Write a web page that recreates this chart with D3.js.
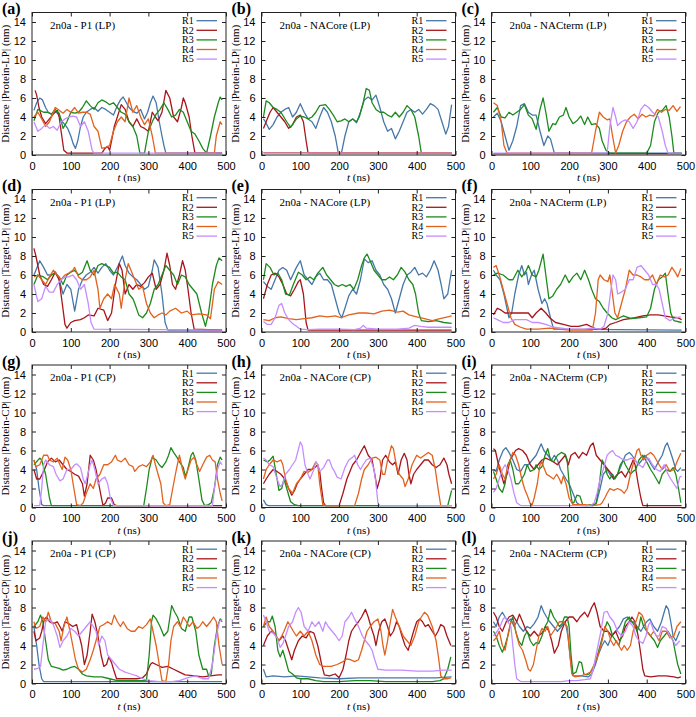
<!DOCTYPE html>
<html>
<head>
<meta charset="utf-8">
<style>
body { margin: 0; background: #fff; }
svg { display: block; font-family: "Liberation Serif", "Times New Roman", serif; }
.tick text { font-size: 11px; fill: #000; }
</style>
</head>
<body>
<svg id="chart"></svg>
<script src="https://cdn.jsdelivr.net/npm/d3@7"></script>
<script>

// values, [t (ns), distance (nm)]
var pA = [
  [[5,4.7],[12,5.5],[20,6],[27,5.8],[35,5],[42,4.5],[50,4.3],[60,4.6],[70,4.2],[78,3.5],[85,3.2],[92,2.8],[100,2],[106,1.2],[112,0.7],[118,1.5],[125,3],[132,4],[140,4.5],[150,4.8],[160,5],[170,4.6],[180,5],[190,4.8],[200,4.5],[210,4.2],[220,5.2],[228,5.8],[235,6.1],[242,5.6],[250,5],[260,4.6],[270,4.4],[280,4.8],[290,3.8],[298,4.5],[305,5.5],[312,6.2],[320,5.5],[328,3.5],[335,2],[340,1],[345,0.2],[490,0.2]],
  [[8,6.8],[12,6.3],[18,5],[25,4],[35,3.3],[45,3.8],[55,4.3],[65,4.7],[70,4],[75,2.5],[82,0.5],[90,0.2],[180,0.2],[188,0.7],[195,0.9],[200,0.5],[205,1.5],[212,3],[220,4],[230,5.3],[240,4.8],[250,3.5],[260,3],[270,3.8],[280,3],[290,2.8],[300,2.5],[310,4.5],[318,4],[325,3.6],[335,4.5],[345,6.8],[355,6],[365,4],[375,3.5],[385,5],[390,6],[395,5.5],[405,4],[412,2],[420,0.2],[490,0.2]],
  [[5,3.6],[15,4.8],[30,4.5],[40,4.5],[50,4.3],[60,4.8],[70,4.4],[80,2.8],[90,3.5],[100,4.5],[110,4.4],[120,4.5],[130,5],[140,5.7],[150,5.2],[160,4.8],[170,5.5],[180,5.8],[190,5.6],[200,5.3],[210,5.5],[220,5],[230,4.5],[240,4.3],[250,3.5],[260,3],[270,2],[278,0.2],[290,0.2],[300,2.5],[310,3.5],[320,4.3],[330,4.8],[340,5.5],[350,4.8],[360,4],[370,4.2],[380,4.8],[390,4.5],[400,3.5],[410,2.5],[420,2.2],[430,1.5],[440,0.7],[450,0.2],[460,2],[470,4],[480,5.5],[485,6.1],[490,5.8]],
  [[5,4],[15,4.5],[25,3.8],[35,3],[45,3.5],[55,4.5],[60,5],[70,4.7],[80,4.4],[90,4.8],[100,4.5],[110,5],[120,4.4],[130,4.5],[140,4.5],[150,4.3],[160,3],[170,2.5],[180,0.7],[190,0.8],[200,1],[210,2.5],[220,3.5],[230,4],[240,3.5],[250,6],[260,4.5],[270,5.2],[280,4],[290,3.2],[300,3.8],[310,2],[318,0.2],[470,0.2],[475,2],[485,3.5],[490,3.2]],
  [[5,3.5],[15,2.5],[25,2.8],[35,3.2],[45,2.8],[55,3],[65,2.6],[75,3.5],[85,3.8],[95,4],[105,4.1],[115,4],[125,3],[135,3.5],[145,2.5],[155,0.5],[160,0.2],[490,0.2]]
];

var pB = [
  [[5,3.8],[10,3.5],[20,2.7],[30,3.2],[40,4],[50,4.5],[60,4.8],[70,5],[80,4],[90,4.5],[100,5.4],[110,4.5],[120,3.8],[130,3.5],[140,2.8],[150,4],[160,5],[170,4.5],[180,3.5],[190,2],[198,0.2],[206,0.2],[215,2],[225,3.5],[235,3.8],[245,3.4],[255,4.5],[265,5.8],[275,6.1],[285,5.8],[295,6.3],[305,5],[315,3.5],[325,2.5],[335,2.8],[345,1.7],[355,2.5],[365,3.5],[375,4.5],[385,4.8],[395,4.5],[405,4.8],[415,4.3],[425,4.8],[435,5.4],[445,5.2],[455,4.8],[465,3.5],[475,2.2],[482,3],[490,5.3]],
  [[5,2.8],[12,3.5],[22,4.5],[30,5],[40,4.5],[50,4],[60,3.5],[70,2.8],[80,3.2],[90,4],[100,4.2],[108,3.5],[115,1.5],[120,0.2],[490,0.2]],
  [[5,4],[12,5.7],[20,5.5],[30,5],[40,4.8],[50,4.5],[65,3.5],[75,2.9],[90,3.8],[100,4.1],[110,4],[120,3.8],[130,4],[140,4.5],[150,5.2],[165,5.3],[175,4.8],[185,4.2],[195,3.5],[205,3.6],[215,3.8],[225,3.5],[235,3.8],[245,3.5],[252,4],[262,5.5],[270,7],[278,6.8],[285,5.5],[295,4.8],[305,4.5],[315,4.5],[325,4.2],[335,4],[345,4.5],[355,4],[365,4.5],[375,5.2],[385,4.8],[395,4],[405,2],[412,0.2],[490,0.2]],
  [[5,0.25],[490,0.25]],
  [[5,0.2],[490,0.2]]
];

var pC = [
  [[5,4],[15,4.4],[25,3.5],[35,2],[45,0.5],[55,1.5],[65,3],[75,5.2],[85,5.4],[95,4.5],[105,4.2],[115,4.2],[125,2.5],[135,1],[145,2],[152,1.7],[162,0.2],[490,0.2]],
  [[5,0.15],[490,0.15]],
  [[5,4.5],[15,5],[25,4],[35,3.9],[45,4.5],[55,4.2],[65,4.5],[75,4.8],[85,5.3],[95,4.2],[105,3.8],[115,2.7],[125,4.8],[133,6],[140,4.5],[148,2.5],[158,3.3],[165,3.2],[175,4],[185,4.2],[192,5],[200,4],[210,3.3],[220,3.6],[230,4.1],[240,3.2],[248,4],[258,3.2],[268,3.3],[278,2.8],[285,1.5],[295,0.5],[305,0.2],[400,0.2],[410,1],[420,3.5],[430,4.5],[440,4.7],[450,5.2],[458,4],[465,2],[470,0.2],[490,0.2]],
  [[5,5.5],[15,5.2],[25,3.5],[32,1],[40,0.2],[258,0.2],[268,2.5],[278,4.5],[288,4],[298,3.7],[305,3.8],[312,2],[320,0.2],[328,1],[338,2.5],[348,3.5],[358,4],[368,4.3],[378,3.8],[388,4.3],[398,4],[408,4.2],[418,4.1],[428,4.8],[438,4.5],[448,4.8],[458,4.7],[468,5.2],[478,4.6],[487,5.1]],
  [[5,0.2],[298,0.2],[305,3],[313,5],[320,4],[325,3.1],[335,3.5],[345,3.7],[355,3.5],[365,2.8],[375,3.5],[385,4.8],[395,5.3],[405,5],[415,4.5],[425,4.2],[430,4],[440,2.5],[448,1],[455,0.2],[490,0.2]]
];

var pD = [
  [[5,6],[20,7.5],[30,6.8],[40,6],[50,6],[60,6.3],[70,5.5],[80,4],[90,5],[100,4.5],[110,2.2],[120,4.5],[130,5.5],[140,6],[150,6.3],[160,6.8],[170,6.2],[180,6.8],[190,7.2],[200,6.5],[210,6],[220,6.8],[233,8],[240,7],[250,6.2],[260,5.8],[270,5.5],[280,5],[290,4.5],[300,4.8],[310,6.5],[315,7.6],[325,6.8],[335,4],[343,1],[350,0.2],[490,0.2]],
  [[5,8.8],[10,8],[20,6],[30,5],[40,4.8],[50,5.5],[60,6.3],[70,5.5],[78,3],[85,0.8],[90,0.4],[100,1],[110,1.2],[125,1.3],[135,1.5],[145,1.8],[160,1.7],[170,2.5],[185,2.3],[195,1.2],[205,2],[215,5],[225,7.2],[232,6.5],[240,4],[250,5],[260,4.5],[270,5],[280,4.8],[290,5.2],[300,5.8],[310,6.2],[320,4.5],[330,5],[340,6.5],[348,8.3],[355,7],[362,5],[370,4.5],[380,6],[388,7.5],[395,6.5],[402,4.5],[410,2],[418,0.3],[490,0.2]],
  [[5,5],[15,6],[30,5.8],[40,5.5],[50,6],[60,6.2],[70,5.8],[80,5],[90,6],[100,6.3],[110,6.5],[120,6],[130,6.3],[142,7.5],[150,6.5],[160,6],[170,7],[180,7.2],[190,7],[200,6.8],[210,6.2],[220,6.3],[230,5.8],[240,5.5],[250,4],[260,3.5],[265,3],[275,1.8],[285,1.5],[295,2],[305,3],[315,4.5],[325,5],[335,6],[345,7],[355,6.5],[365,6],[375,5],[385,6],[395,5.8],[405,5],[415,4.5],[425,4],[437,2],[447,0.6],[455,2],[465,5],[475,7],[482,7.8],[490,7.5]],
  [[5,5.8],[15,6],[25,5.5],[35,5],[45,5.8],[55,6.5],[65,6],[75,5.5],[85,6],[95,6.2],[105,6.5],[110,6.8],[120,5.8],[130,5.5],[140,5.5],[150,5.8],[160,6.5],[170,4.5],[175,2.5],[185,3.5],[195,4],[205,3.5],[213,5],[225,4],[230,2.5],[240,5.5],[248,7.2],[255,6.5],[265,5.5],[275,4.5],[285,4.8],[295,3],[305,2],[315,1.5],[325,1.8],[335,2],[345,1.8],[355,2.2],[370,2.5],[385,2],[400,2.2],[410,1.8],[430,1.9],[450,1.8],[460,1.4],[470,4.5],[480,5.3],[490,5]],
  [[5,5],[15,3.2],[25,3.5],[35,4.8],[45,4.2],[55,4.2],[65,5],[75,5.5],[85,5.8],[95,5.8],[105,6],[115,5.5],[125,4.5],[135,5],[145,3],[152,1],[160,0.3],[490,0.2]]
];

var pE = [
  [[5,5.3],[15,4.8],[25,4.5],[35,5.5],[45,6.5],[55,6.8],[65,6.5],[75,5.5],[90,6.8],[100,7.5],[110,6],[120,5.5],[130,5],[140,5.8],[150,6.2],[160,5.5],[170,5.5],[180,5],[190,3.5],[200,2],[207,1.5],[215,2.5],[225,3.8],[235,4.5],[245,4],[255,5.5],[265,7.7],[275,7.3],[285,7.5],[295,6.5],[305,6],[315,5],[325,4.5],[335,3.5],[345,2],[355,3.5],[365,5],[375,6],[385,6.3],[395,6.8],[405,6],[415,6.2],[425,5.8],[435,6.5],[445,7.5],[455,6.5],[463,5],[470,3.5],[480,4],[490,6.5]],
  [[5,3.5],[15,5],[25,6],[35,6.2],[45,5.8],[55,5],[65,4],[75,3.8],[85,4.5],[95,5.3],[100,5.5],[108,4],[115,1],[120,0.2],[490,0.2]],
  [[5,5.5],[12,7.2],[22,6.8],[32,6],[42,6.2],[52,5.5],[62,4],[72,3.9],[82,5],[95,6.3],[105,6],[115,5.5],[125,5.8],[135,5.5],[145,6.2],[158,6.8],[168,6],[178,5.5],[188,5],[198,4.8],[208,5],[218,4.8],[228,5],[238,4.5],[248,5.5],[258,7],[265,7.8],[272,8.2],[280,7.5],[290,6.5],[300,6],[310,5.5],[320,5.5],[330,5.8],[340,5.5],[350,6],[360,6.8],[370,6.3],[380,5.5],[390,5],[397,4],[405,2],[412,1.2],[430,1.1],[450,1.2],[470,1],[490,0.9]],
  [[5,1.3],[20,1.2],[35,1.5],[50,1.6],[70,1.4],[90,1.3],[110,1.4],[130,1.5],[150,1.7],[170,1.6],[190,1.7],[205,1.5],[225,1.8],[250,2],[270,2],[290,1.9],[310,2.2],[330,2.3],[350,2.1],[365,2.2],[380,1.8],[400,1.6],[420,1.4],[440,1.2],[460,1.4],[480,1.6],[490,1.7]],
  [[5,1.1],[15,0.8],[25,0.8],[35,1.5],[45,2.8],[52,3],[60,2],[70,1.3],[80,0.9],[90,0.6],[100,0.3],[120,0.25],[150,0.3],[200,0.3],[240,0.25],[255,0.4],[262,0.7],[270,0.4],[300,0.3],[350,0.3],[380,0.4],[395,0.7],[410,0.6],[430,0.5],[490,0.5]]
];

var pF = [
  [[5,6.5],[12,6],[22,5.5],[32,4],[45,1.5],[52,2],[60,4],[70,6],[78,7],[85,6],[90,6.3],[95,5],[103,6],[110,6.5],[115,5.5],[120,4.5],[130,3],[137,3.5],[143,3],[152,1.5],[160,0.3],[490,0.2]],
  [[5,1.8],[15,2.5],[25,2.3],[35,2],[55,2],[75,2],[85,2],[95,2],[105,1.5],[115,2],[128,2.5],[140,2],[150,1.5],[165,1],[185,0.8],[205,0.6],[225,0.6],[245,0.8],[260,0.5],[270,0.3],[285,0.3],[295,0.4],[305,0.8],[320,1],[340,1.3],[370,1.5],[390,1.7],[410,1.8],[430,1.8],[460,1.6],[480,1.5],[490,1.3]],
  [[5,6],[15,6.2],[30,6],[45,5.5],[55,5.5],[68,6.5],[78,5.8],[90,6.5],[95,7],[105,6],[115,5.8],[122,6.5],[133,8.2],[140,6],[148,3.5],[158,3.8],[168,4.5],[178,5],[190,6],[200,5.2],[210,5.8],[220,6.2],[230,5.5],[240,6.5],[250,5.5],[258,4.5],[268,3.5],[278,3.2],[288,2.5],[298,2],[310,1.5],[320,1.3],[330,1.5],[340,1.7],[360,1.4],[380,1.5],[400,1.6],[410,2.5],[420,4.5],[430,5.5],[440,5.8],[448,6.2],[455,4],[462,2],[470,1.2],[490,1]],
  [[5,6.8],[12,7],[20,6],[30,4.5],[40,3],[50,1.5],[60,0.8],[75,0.5],[90,0.3],[120,0.3],[150,0.4],[200,0.2],[260,0.2],[268,2],[275,5.5],[280,6],[290,5.5],[300,5.3],[305,6],[310,4.5],[318,2],[325,1.5],[335,3],[345,4.5],[355,6.5],[365,6],[375,6],[385,5.8],[395,5.5],[405,5.5],[415,6],[425,5],[435,6],[445,5.8],[455,6],[465,6.8],[475,6.2],[480,5.8],[488,6.7]],
  [[5,1.5],[15,1.3],[30,1],[45,1],[60,1.3],[75,1.3],[90,1.3],[105,1],[120,1],[140,0.8],[160,0.5],[180,0.4],[200,0.3],[240,0.3],[260,0.4],[280,0.3],[290,0.6],[300,2],[308,4.5],[313,6],[320,5.5],[325,4],[335,4.2],[345,4.5],[355,5.5],[365,5.5],[375,6.8],[385,7],[395,6.5],[405,6],[415,5],[425,5],[432,4.5],[440,3],[448,1.5],[460,1.2],[475,1.5],[488,1.6]]
];

var pG = [
  [[5,5],[12,4],[18,2],[25,0.3],[30,0.2],[490,0.2]],
  [[5,4],[12,3],[20,3],[30,3.8],[40,4.8],[50,5.2],[60,4.8],[70,5],[80,4.5],[90,4],[100,3.8],[110,3.5],[120,3.3],[130,2.5],[135,1.2],[142,2.5],[150,5.5],[158,5],[165,4],[172,2.5],[178,1.2],[183,0.2],[190,0.5],[195,1],[205,1],[212,0.3],[218,0.2],[490,0.2]],
  [[5,4.5],[20,5.2],[25,5],[35,3.5],[45,1],[50,0.2],[288,0.2],[295,2],[302,4],[310,5.3],[320,5],[328,4.5],[335,4.2],[345,4.8],[352,5.5],[358,6.3],[365,5.8],[375,5.2],[380,4.8],[390,4.2],[395,3.3],[400,3.8],[410,5.5],[415,5.8],[422,5],[430,3],[438,0.8],[445,0.2],[455,0.3],[462,0.5],[470,2],[478,4.5],[485,5.3],[490,5]],
  [[5,5],[10,4.3],[20,4.5],[30,5.5],[40,5.5],[45,5],[55,4.8],[65,5.2],[72,4.5],[78,4],[85,5.3],[92,5],[100,4],[108,2],[115,0.3],[125,0.2],[132,0.5],[140,1.5],[150,2.5],[158,2],[165,3],[175,3.5],[185,4.5],[195,4.5],[205,4.8],[215,5.5],[220,5],[230,4.8],[240,5.2],[250,4.5],[260,4.3],[265,3.8],[275,4.3],[285,4.5],[295,4.3],[305,4.8],[312,5.5],[318,4.5],[325,3.5],[332,2.5],[338,0.5],[345,0.2],[355,0.3],[365,2.5],[372,4],[380,5.5],[388,4],[395,3],[402,4],[410,5],[418,5.3],[425,4.5],[432,3.8],[440,4.5],[450,5.3],[458,5.5],[465,5],[472,4.8],[478,3],[485,1.5],[490,0.7]],
  [[5,0.2],[20,0.2],[25,2],[30,4.5],[35,5],[45,4.5],[55,4.3],[62,3.5],[72,2.8],[80,3],[90,4],[100,4],[110,4.5],[115,4.6],[125,4.2],[132,3],[137,2.5],[142,3.2],[150,4.5],[155,5],[162,4],[170,2.5],[180,3],[188,3.2],[195,2.5],[202,1],[210,0.2],[465,0.2],[470,2],[478,4],[485,4.8],[490,4.5]]
];

var pH = [
  [[5,0.8],[12,0.3],[18,0.2],[490,0.2]],
  [[5,2.5],[12,3],[20,3.5],[30,4],[40,3.8],[50,3.5],[60,3],[70,2],[78,1.3],[85,1.8],[92,2.5],[100,3],[110,3.5],[120,4],[130,4],[140,4.3],[145,4.5],[150,3.8],[155,2],[160,0.5],[165,0.2],[200,0.2],[210,1.5],[220,3],[235,4.5],[245,5],[258,6],[265,6.5],[275,5.5],[285,5],[292,3.5],[298,2],[305,3],[312,5],[320,5.5],[330,4.8],[338,4.5],[345,4.8],[352,3.5],[360,5],[368,5.7],[375,5],[380,3.5],[385,2.5],[392,3.5],[400,4],[410,4.5],[420,5],[430,5],[440,4.5],[450,4.2],[460,4.5],[470,5.2],[478,4.5],[483,3.5],[490,2.5]],
  [[5,5],[15,4.8],[22,5],[30,5.4],[38,3.5],[45,1.8],[52,2],[58,3],[65,2],[75,0.6],[85,0.3],[95,0.2],[480,0.2],[485,1],[490,1.8]],
  [[5,3],[12,4],[20,4.5],[30,5],[40,4.8],[50,5],[55,4.5],[62,3],[70,2],[80,1.5],[90,2.5],[100,3],[110,3.8],[120,3.7],[130,4],[140,4.8],[145,4.5],[150,2.5],[158,0.3],[165,0.2],[240,0.2],[250,1.5],[258,3],[265,4],[275,4.5],[285,5.2],[295,5.3],[305,5],[312,3.5],[318,3.5],[325,5],[335,6.5],[340,6.2],[345,5],[350,4],[355,3.5],[365,3],[370,2.2],[378,3],[388,4.5],[400,5.5],[410,5.2],[420,5.5],[430,5.8],[440,5.5],[448,4],[455,2],[462,0.2],[490,0.2]],
  [[5,5.2],[12,5],[20,4.5],[30,4.3],[40,3],[48,2.2],[55,2.5],[62,3.5],[72,4],[80,4.5],[88,5],[100,6.9],[105,6.5],[112,4.5],[120,3.5],[125,3],[135,4],[140,4.8],[145,4.5],[150,3.8],[160,4.2],[170,5],[175,5],[182,4.2],[188,3.8],[195,3.2],[205,3],[215,4.2],[225,5],[235,5.3],[240,5.5],[248,4.5],[255,4],[262,4.5],[270,5],[280,5.2],[290,4],[295,2.5],[300,0.5],[305,0.2],[490,0.2]]
];

var pI = [
  [[5,4],[12,3.8],[20,5],[30,6],[37,6.3],[45,5.8],[55,5],[65,4],[75,3.8],[85,4.5],[95,4.5],[105,5],[115,5.5],[128,6.7],[135,6],[145,5.5],[155,5],[162,5.5],[170,5],[178,4],[185,3.5],[192,3],[200,2.5],[210,1.5],[220,0.5],[230,0.2],[260,0.2],[270,0.4],[280,2],[288,3.5],[298,4],[305,3.5],[315,3],[325,3.5],[335,4.5],[345,5.5],[355,5.8],[362,5.5],[370,5],[378,4.5],[388,5],[395,5.5],[405,5],[412,4.5],[420,4],[430,4.8],[440,5.5],[448,6.5],[453,6.8],[460,6],[468,5],[475,4],[480,3.8],[488,4.2]],
  [[5,6.2],[10,6],[18,4.5],[25,3.5],[32,2.5],[40,3.5],[48,5],[55,5.5],[62,6],[70,6.2],[80,6],[90,5.5],[100,4.5],[110,4],[120,4.5],[130,5],[140,5.2],[150,5],[160,4.8],[170,4.5],[180,5],[190,5.5],[198,4.5],[205,5.5],[215,5.8],[225,5.2],[235,5.8],[245,5.5],[255,6.5],[262,6.8],[270,5.5],[280,5],[290,4.5],[300,4],[310,3.5],[315,3],[325,3.5],[335,3.8],[345,3.2],[355,4],[365,5],[370,4.5],[378,2.5],[385,1],[390,0.2],[490,0.2]],
  [[5,3.8],[12,3],[20,2],[28,1.6],[35,2.5],[42,4.5],[48,5],[55,4],[62,2.5],[70,2.5],[78,3],[85,3.5],[92,4.5],[100,3.8],[110,4],[115,4.5],[122,4],[130,4.3],[138,5.5],[145,6.2],[152,5],[160,4.8],[170,5.5],[180,5.8],[190,5.6],[195,5],[200,2.5],[208,0.5],[212,0.5],[220,1.3],[228,1.2],[235,0.3],[245,0.2],[255,0.3],[265,0.3],[270,0.5],[278,2.5],[285,5],[292,4.5],[298,3.5],[305,3],[312,3.5],[318,3],[325,3.5],[332,4.5],[340,5],[345,4.5],[352,4],[358,3.5],[365,3.8],[372,4],[380,5],[390,5.5],[400,4.8],[410,4],[418,3.5],[425,3],[432,2.5],[440,3.5],[450,4],[460,3.8],[468,4.2],[475,3.5],[482,2],[488,0.5]],
  [[5,3],[12,3.5],[20,4.5],[28,3.5],[35,3],[40,4],[48,5],[55,5.8],[62,5.5],[70,4.5],[78,3],[85,2],[92,1.3],[100,0.4],[105,0.3],[110,1],[118,2.5],[125,4.5],[130,4.8],[135,4.2],[142,3.5],[150,3.3],[160,3],[168,3.5],[175,3],[180,2.5],[185,3.3],[192,2.5],[200,1],[210,0.3],[240,0.3],[260,0.2],[280,0.3],[285,0.5],[292,1],[298,1.5],[305,2],[315,1.8],[325,2],[335,1.8],[342,1.5],[350,2],[358,3.5],[368,5],[375,6],[380,6.2],[385,5.5],[392,5],[400,5.5],[410,5.8],[418,5.5],[425,5],[432,4.5],[440,4],[450,4.5],[460,3.8],[470,4],[480,5],[488,5.7]],
  [[5,1.6],[12,2],[20,3],[28,4],[35,4.5],[42,4],[50,3],[58,1.5],[65,0.5],[75,0.2],[255,0.2],[265,0.5],[272,1.5],[280,3],[288,4],[298,5.5],[305,5.8],[312,6],[320,5.5],[330,5.3],[340,5],[350,5],[360,5.2],[370,5],[380,4.5],[390,4.2],[400,5],[405,5.2],[415,4.5],[425,4],[435,3.8],[445,4.5],[455,3.5],[462,3],[470,2.5],[478,2],[485,3.2],[490,3.3]]
];

var pJ = [
  [[5,6],[12,4],[18,2],[25,0.5],[30,0.2],[490,0.2]],
  [[5,5.5],[10,4.5],[20,4.8],[25,5.5],[32,6.8],[38,7],[45,6.5],[55,6.3],[65,6.5],[72,6],[78,5.5],[85,6.5],[95,6.3],[105,6],[115,6.2],[122,5],[128,4],[135,2],[142,3],[150,5.5],[155,7.3],[162,6.5],[170,5],[178,3],[185,1.8],[192,2],[198,2.8],[205,2.2],[210,1.5],[218,0.5],[240,0.5],[270,0.5],[285,0.6],[295,1],[305,2],[310,2.2],[320,2],[335,1.7],[350,1.8],[365,1.5],[380,1.2],[395,0.9],[420,0.8],[440,0.7],[460,0.8],[480,0.9],[490,0.9]],
  [[5,6],[15,6.5],[22,7.2],[28,6.5],[35,4.5],[42,2.5],[50,1.8],[60,1.7],[70,1.6],[80,1.4],[90,1.5],[100,1.7],[110,1.8],[120,1.5],[130,1],[140,0.8],[160,0.7],[180,0.7],[200,0.5],[220,0.3],[260,0.3],[295,0.3],[302,3],[308,6.5],[312,7.2],[320,6.8],[330,6],[340,5],[350,5.5],[360,8.2],[368,7.5],[375,7],[385,5.8],[395,5.5],[405,7],[412,7],[422,5.5],[430,3],[440,1.5],[450,1.5],[455,0.8],[462,1],[470,4],[478,6],[485,6.8],[490,6.5]],
  [[5,6.5],[10,5.8],[20,6],[28,7],[35,6.5],[42,7.5],[50,6.5],[60,6.3],[70,5.5],[75,4.5],[82,6],[90,7],[98,5.5],[105,4],[112,2.5],[120,1.5],[130,1.2],[140,1.5],[150,2.5],[158,3.5],[165,4.5],[175,6],[185,6.2],[195,6.5],[205,6.2],[212,7.2],[220,6.5],[228,6],[235,6.5],[245,5.8],[255,5.5],[265,5.5],[275,6],[285,5.8],[295,6.2],[305,6.8],[312,5.5],[320,4],[328,2],[335,0.3],[345,0.2],[352,2],[358,4.5],[365,6],[375,6.5],[382,6],[390,7],[398,6.5],[405,6],[415,6.5],[425,5.8],[432,6],[440,6.5],[450,6],[460,6.5],[468,7],[475,6.5],[482,4],[490,2]],
  [[5,1.5],[15,1.6],[22,1.8],[28,4],[35,6.5],[45,6.8],[55,6.2],[65,5],[72,3.8],[80,4.5],[90,5],[100,5.8],[110,5.5],[120,5],[130,5.5],[140,6],[150,6.5],[158,6],[165,5.5],[172,4],[180,5],[188,4.5],[195,3],[205,2.5],[215,2],[225,1.5],[240,1.2],[255,1],[270,0.8],[285,0.5],[300,0.3],[330,0.2],[360,0.2],[380,0.3],[400,0.6],[420,0.8],[440,0.5],[455,0.5],[465,2],[475,5],[483,6.5],[490,6.8]]
];

var pK = [
  [[5,1.5],[12,0.7],[30,0.8],[60,0.7],[90,0.8],[120,0.7],[150,0.6],[200,0.5],[250,0.6],[300,0.6],[350,0.6],[400,0.6],[450,0.6],[490,0.7]],
  [[5,4],[15,5],[25,5.5],[35,5.2],[45,4.5],[55,5],[62,4.5],[70,3.5],[78,2.5],[85,3.5],[95,4.5],[105,5],[115,4.8],[125,5.5],[135,5.3],[145,4],[155,2],[162,0.9],[175,0.8],[190,1],[200,0.6],[210,1.5],[218,3],[225,4.5],[232,5.5],[240,6],[250,6.5],[258,7],[268,7.8],[275,7],[282,6],[290,5],[295,4],[302,5.5],[310,6.5],[318,6.8],[325,6],[332,5],[340,5.5],[348,6.5],[355,6],[362,5],[370,4],[378,3.5],[385,4.5],[392,5.5],[400,6.5],[408,6.8],[415,6.5],[422,6],[430,6.2],[440,5.5],[448,5],[455,5.5],[462,6.2],[470,6],[478,5],[488,4]],
  [[5,6],[15,6.5],[22,6.5],[28,7.1],[35,6],[42,3.5],[48,2.8],[55,3.5],[62,2.5],[70,1.3],[80,1],[90,0.6],[100,0.5],[120,0.5],[140,0.3],[160,0.2],[200,0.2],[240,0.3],[280,0.3],[320,0.2],[400,0.2],[440,0.2],[460,0.3],[470,0.5],[480,1.5],[488,2.8]],
  [[5,6],[12,7],[20,6],[30,5.5],[38,5],[45,4.5],[52,5],[58,5.5],[68,6.5],[75,6],[82,5.5],[90,5],[100,5.5],[110,5],[120,5.5],[130,4.5],[140,3],[150,2],[160,1.8],[180,1.8],[195,2],[210,2.3],[220,2.6],[230,2.5],[240,2.3],[250,2.5],[258,3.5],[265,4.5],[272,5.5],[280,6],[290,6.5],[300,6.8],[308,5.5],[313,4],[318,3],[325,4.5],[330,6],[338,7.8],[345,7],[355,6],[365,5],[375,4.5],[385,4],[395,5],[405,6.5],[412,7],[420,7.5],[428,7.2],[440,6],[450,4.5],[457,2.5],[462,0.8],[470,0.5],[480,0.5],[488,0.6]],
  [[5,7.2],[12,6.5],[20,5.5],[30,5.3],[40,4.8],[48,3.8],[55,4.2],[62,5],[70,6],[80,6.5],[88,7.5],[95,8],[102,7.5],[110,6],[120,5.5],[130,6.5],[138,6],[148,6.5],[158,5.5],[165,6.5],[172,6],[182,5.5],[192,5],[200,4.5],[208,5],[215,6.5],[225,7],[232,7.5],[240,6.8],[250,6],[260,5],[268,4.5],[278,4],[285,3.5],[292,2.5],[300,1.5],[320,1.4],[360,1.4],[400,1.3],[440,1.3],[470,1.4],[490,1.4]]
];

var pL = [
  [[5,6.5],[12,6],[20,7],[28,7.5],[35,7],[42,6.5],[50,6.8],[58,6],[65,6.5],[72,6],[82,5.5],[92,6],[100,5.8],[110,6.3],[120,7],[128,8.2],[135,7.5],[142,7],[150,6.5],[160,6],[170,5.5],[180,6],[190,6.5],[197,5],[205,2],[210,0.8],[230,0.8],[250,0.7],[258,1],[268,2],[275,3],[285,4],[292,4.5],[300,4],[310,5],[320,5.5],[330,6],[340,6.8],[350,7],[358,6.5],[365,6.5],[375,6],[385,5.5],[392,6],[400,6.5],[408,6.8],[418,6],[428,5.5],[438,6.5],[445,7.5],[450,8.2],[456,7.8],[462,6.5],[468,5],[475,4.5],[485,5.5]],
  [[5,7.5],[12,7],[20,6],[28,5.5],[38,6.5],[45,7],[55,7.2],[65,6.5],[72,7.3],[80,6.5],[90,5.5],[100,5],[110,5.5],[120,5],[130,5.3],[140,6],[148,5.5],[155,4.5],[162,3.2],[172,4],[180,5.5],[190,6.5],[200,7],[210,7],[220,6.5],[228,7],[240,7.5],[248,7],[258,8],[265,8.5],[272,7.5],[280,6],[290,5.5],[300,5.5],[310,5],[320,5.5],[330,4.5],[338,5],[345,6],[355,6.5],[362,7],[370,6.5],[378,5],[385,3],[390,1.5],[395,0.8],[410,0.7],[430,0.8],[450,0.8],[470,0.7],[480,0.6],[488,0.7]],
  [[5,5.5],[12,5],[20,4],[28,3.3],[35,4],[42,5],[50,6.5],[55,7],[62,5.5],[70,4.5],[78,4],[85,5],[92,5.5],[100,4.5],[108,4],[115,4.3],[122,4.2],[130,5],[138,6],[145,6.5],[152,7.8],[160,7],[168,6.5],[175,6],[182,6.3],[188,7],[195,7],[200,6],[205,3],[210,1],[218,1.2],[226,2.3],[232,2.2],[238,1],[245,0.9],[252,1],[260,1.5],[270,2.5],[280,4],[290,5.5],[298,6.5],[305,6],[312,5],[320,4.5],[328,4],[335,5],[345,6.5],[355,7],[362,6.5],[370,6],[375,5.5],[380,6],[385,7],[392,6],[400,5.5],[410,5],[420,4.5],[428,3.8],[435,4.5],[445,5],[455,5.5],[462,5],[468,4.5],[475,3],[480,2],[488,1]],
  [[5,4.5],[12,4.8],[20,5.5],[28,4],[35,3.5],[42,5],[50,6.5],[58,6.5],[65,5],[72,4],[80,3.5],[88,2.5],[95,1.5],[100,1.3],[108,2],[115,3.5],[122,5],[130,5.8],[138,5.5],[145,6],[152,5],[160,5.5],[168,6],[175,6.5],[185,6.5],[195,6],[202,3],[207,1],[215,0.7],[230,0.8],[245,1],[255,1.2],[265,2],[275,3],[285,4.5],[292,6],[300,5.5],[308,4.5],[315,4],[322,4.5],[328,4],[335,3.5],[342,4],[350,3.5],[358,4],[365,5.5],[372,6.5],[380,7.5],[388,7.2],[395,6.5],[400,5.5],[410,5],[418,5.5],[425,5],[432,4.5],[440,5.5],[450,5.5],[460,4.8],[470,5],[478,6],[488,6.5]],
  [[5,5],[15,5.5],[22,6],[30,6.8],[35,7],[42,6.5],[50,6],[55,4],[60,2],[65,0.5],[75,0.2],[120,0.2],[180,0.2],[200,0.3],[220,0.3],[240,0.4],[255,0.5],[262,1.5],[272,3.5],[282,5.5],[290,7.5],[298,7.6],[305,7],[315,6.5],[325,5.5],[335,5],[345,5.5],[355,6.5],[365,6],[372,5],[380,4.5],[390,4.2],[398,5],[405,6.2],[410,6.5],[418,5.5],[425,5],[432,5],[440,6],[450,5.8],[460,5],[468,4.5],[475,4],[485,4.5]]
];

var seriesNames = ["R1", "R2", "R3", "R4", "R5"];
var seriesColors = ["#4677a8", "#a6161c", "#1d8a1d", "#e2621e", "#c58dff"];
var xTicks = [0, 100, 200, 300, 400, 500];
var yTicks = [0, 2, 4, 6, 8, 10, 12, 14];
var tags = ["(a)", "(b)", "(c)", "(d)", "(e)", "(f)", "(g)", "(h)", "(i)", "(j)", "(k)", "(l)"];
var titles = ["2n0a - P1 (LP)", "2n0a - NACore (LP)", "2n0a - NACterm (LP)",
              "2n0a - P1 (LP)", "2n0a - NACore (LP)", "2n0a - NACterm (LP)",
              "2n0a - P1 (CP)", "2n0a - NACore (CP)", "2n0a - NACterm (CP)",
              "2n0a - P1 (CP)", "2n0a - NACore (CP)", "2n0a - NACterm (CP)"];
var yLabels = ["Distance |Protein-LP| (nm)", "Distance |Target-LP| (nm)",
               "Distance |Protein-CP| (nm)", "Distance |Target-CP| (nm)"];
var panelData = [pA, pB, pC, pD, pE, pF, pG, pH, pI, pJ, pK, pL];

var colLeft = [32, 261.5, 491.5],
    rowBottom = [155, 332, 507.5, 683.5],
    pw = 194, ph = 142.5;

var svg = d3.select("#chart")
    .attr("width", 696)
    .attr("height", 717);

svg.append("clipPath").attr("id", "plotclip")
  .append("rect").attr("width", pw).attr("height", ph);

panelData.forEach(function(series, i) {
  var col = i % 3, row = Math.floor(i / 3);
  var g = svg.append("g")
      .attr("transform", "translate(" + colLeft[col] + "," + (rowBottom[row] - ph) + ")");

  var x = d3.scaleLinear().domain([0, 500]).range([0, pw]);
  var y = d3.scaleLinear().domain([0, 15]).range([ph, 0]);

  // curves
  var line = d3.line().x(d => x(d[0])).y(d => y(d[1]));
  g.append("g").attr("clip-path", "url(#plotclip)")
    .selectAll("path")
    .data(series)
    .enter().append("path")
      .attr("d", line)
      .attr("fill", "none")
      .attr("stroke", (d, k) => seriesColors[k])
      .attr("stroke-width", 1.3)
      .attr("stroke-linejoin", "round");

  // axes, ticks pointing inwards and mirrored
  g.append("g")
      .attr("transform", "translate(0," + ph + ")")
      .call(d3.axisBottom(x).tickValues(xTicks).tickSizeInner(-4).tickSizeOuter(0).tickPadding(7));
  g.append("g")
      .call(d3.axisLeft(y).tickValues(yTicks).tickSizeInner(-4).tickSizeOuter(0).tickPadding(6));
  g.append("g")
      .call(d3.axisTop(x).tickValues(xTicks).tickSizeInner(-4).tickSizeOuter(0).tickFormat(""));
  g.append("g")
      .attr("transform", "translate(" + pw + ",0)")
      .call(d3.axisRight(y).tickValues(yTicks).tickSizeInner(-4).tickSizeOuter(0).tickFormat(""));
  g.selectAll(".domain").remove();
  g.selectAll(".tick line").attr("stroke", "#222");

  g.append("rect")
      .attr("width", pw).attr("height", ph)
      .attr("fill", "none").attr("stroke", "#222").attr("stroke-width", 1);

  // title and legend
  g.append("text")
      .attr("x", 18).attr("y", 16)
      .attr("font-size", 11)
      .text(titles[i]);

  var key = g.selectAll(".key")
    .data(seriesNames)
    .enter().append("g")
      .attr("class", "key")
      .attr("transform", (d, k) => "translate(0," + (8.2 + k * 9.6) + ")");
  key.append("text")
      .attr("x", 150).attr("dy", "0.33em")
      .attr("font-size", 10)
      .text(d => d);
  key.append("line")
      .attr("x1", 164.5).attr("x2", 185)
      .attr("stroke", (d, k) => seriesColors[k])
      .attr("stroke-width", 1.3);

  // panel tag
  g.append("text")
      .attr("x", -30).attr("y", 1.5)
      .attr("font-size", 16).attr("font-weight", "bold")
      .text(tags[i]);

  // axis titles
  g.append("text")
      .attr("transform", "translate(-23," + (ph / 2) + ") rotate(-90)")
      .attr("text-anchor", "middle")
      .attr("font-size", 11)
      .text(yLabels[row]);

  var xl = g.append("text")
      .attr("x", pw / 2).attr("y", ph + 26)
      .attr("text-anchor", "middle")
      .attr("font-size", 11);
  xl.append("tspan").attr("font-style", "italic").text("t");
  xl.append("tspan").text(" (ns)");
});

</script>
</body>
</html>
